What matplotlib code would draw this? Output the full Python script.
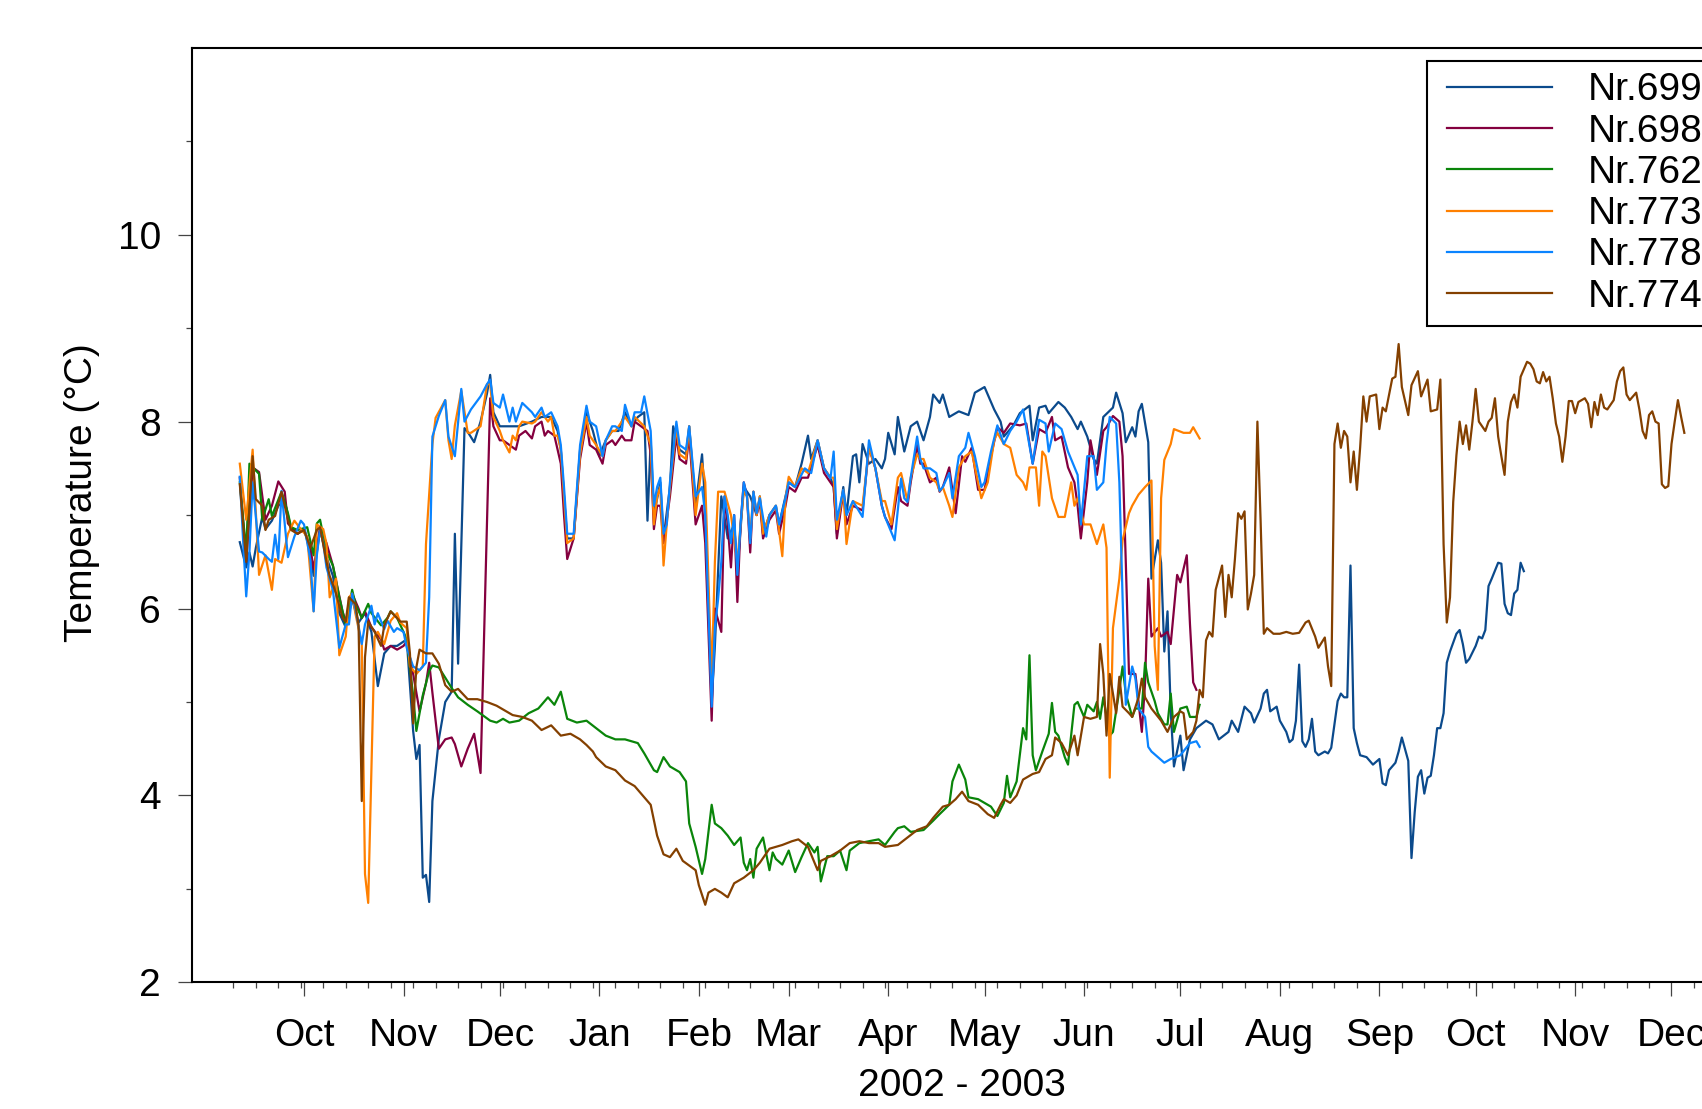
import matplotlib
matplotlib.use('Agg')
import matplotlib.pyplot as plt
import matplotlib.dates as mdates
from matplotlib.lines import Line2D
from matplotlib.legend_handler import HandlerLine2D
from matplotlib.ticker import FixedLocator
import pandas as pd

# --- Data: (days since BASE_DATE, temperature in °C) ---
BASE_DATE = '2002-10-01'

nr699 = [
    (-20, 6.71), (-18, 6.44), (-17, 6.6), (-16, 6.45), (-15, 6.65), (-13, 6.98), (-12, 6.85), (-10, 6.94),
    (-8, 7.1), (-6, 7.15), (-4, 6.85), (-2, 6.8), (0, 6.85), (2, 6.6), (3, 6.35), (5, 6.85), (7, 6.55),
    (9, 6.35), (11, 5.95), (13, 5.8), (15, 6.1), (17, 5.85), (19, 5.95), (21, 5.75), (23, 5.17), (25, 5.52),
    (27, 5.6), (29, 5.6), (32, 5.67), (34, 4.69), (35, 4.39), (36, 4.54), (37, 3.12), (38, 3.15), (39, 2.86),
    (40, 3.94), (42, 4.6), (44, 5.0), (46, 5.11), (47, 6.8), (48, 5.41), (50, 7.93), (51, 7.89), (53, 7.78),
    (55, 8.0), (57, 8.3), (58, 8.5), (59, 8.1), (61, 7.95), (64, 7.95), (67, 7.95), (71, 8.0), (74, 8.05),
    (77, 8.05), (79, 7.9), (80, 7.7), (81, 7.2), (82, 6.75), (84, 6.75), (86, 7.7), (88, 8.1), (90, 7.9),
    (92, 7.63), (94, 7.8), (96, 7.9), (98, 7.9), (100, 8.1), (102, 7.95), (104, 8.05), (106, 8.1), (107, 6.94),
    (108, 7.8), (109, 7.0), (111, 7.35), (112, 6.75), (114, 7.3), (115, 7.95), (117, 7.7), (119, 7.65),
    (120, 7.95), (122, 7.1), (124, 7.65), (125, 7.1), (127, 5.0), (128, 5.6), (129, 6.4), (130, 7.2),
    (132, 6.75), (134, 6.9), (135, 6.4), (137, 7.3), (139, 7.2), (141, 7.0), (142, 7.2), (143, 6.8),
    (145, 7.0), (147, 7.1), (148, 6.9), (150, 7.2), (151, 7.35), (153, 7.3), (155, 7.55), (157, 7.85),
    (158, 7.6), (160, 7.8), (162, 7.5), (164, 7.4), (165, 7.3), (166, 6.8), (168, 7.3), (169, 7.0),
    (171, 7.63), (172, 7.65), (173, 7.35), (174, 7.76), (176, 7.55), (178, 7.6), (180, 7.5), (181, 7.6),
    (182, 7.88), (184, 7.65), (185, 8.05), (187, 7.68), (189, 7.95), (191, 8.0), (193, 7.8), (195, 8.05),
    (196, 8.29), (198, 8.2), (199, 8.29), (201, 8.05), (204, 8.11), (207, 8.07), (209, 8.31), (212, 8.37),
    (215, 8.13), (217, 8.0), (218, 7.84), (221, 7.96), (223, 8.09), (226, 8.17), (227, 7.8), (229, 8.15),
    (231, 8.17), (232, 8.09), (235, 8.21), (237, 8.15), (239, 8.05), (241, 7.92), (242, 8.0), (244, 7.84),
    (246, 7.6), (247, 7.55), (249, 8.05), (252, 8.15), (253, 8.31), (255, 8.09), (256, 7.78), (258, 7.94),
    (259, 7.84), (260, 8.11), (261, 8.19), (263, 7.78), (264, 6.32), (266, 6.73), (267, 6.49), (268, 5.54),
    (269, 5.97), (270, 4.9), (271, 4.31), (273, 4.64), (274, 4.27), (276, 4.6), (278, 4.72), (281, 4.8),
    (283, 4.76), (285, 4.6), (288, 4.68), (289, 4.8), (291, 4.68), (293, 4.95), (295, 4.88), (296, 4.78),
    (298, 4.93), (299, 5.09), (300, 5.13), (301, 4.9), (303, 4.95), (304, 4.8), (306, 4.68), (307, 4.57),
    (308, 4.6), (309, 4.8), (310, 5.4), (311, 4.58), (312, 4.52), (313, 4.6), (314, 4.82), (315, 4.47),
    (316, 4.43), (318, 4.47), (319, 4.45), (320, 4.51), (321, 4.76), (322, 5.01), (323, 5.09), (324, 5.05),
    (325, 5.05), (326, 6.46), (327, 4.72), (328, 4.56), (329, 4.43), (331, 4.41), (333, 4.33), (335, 4.39),
    (336, 4.13), (337, 4.11), (338, 4.27), (340, 4.35), (341, 4.47), (342, 4.62), (344, 4.37), (345, 3.33),
    (346, 3.82), (347, 4.2), (348, 4.27), (349, 4.02), (350, 4.19), (351, 4.21), (352, 4.43), (353, 4.72),
    (354, 4.72), (355, 4.88), (356, 5.42), (357, 5.54), (359, 5.73), (360, 5.77), (361, 5.62), (362, 5.42),
    (363, 5.46), (365, 5.6), (366, 5.7), (367, 5.68), (368, 5.77), (369, 6.24), (370, 6.32), (372, 6.49),
    (373, 6.48), (374, 6.05), (375, 5.95), (376, 5.93), (377, 6.16), (378, 6.2), (379, 6.49), (380, 6.4),
]

nr698 = [
    (-20, 7.4), (-18, 6.5), (-16, 7.51), (-14, 7.46), (-12, 6.95), (-10, 7.1), (-8, 7.36), (-6, 7.25),
    (-5, 6.91), (-2, 6.8), (0, 6.85), (2, 6.65), (3, 6.42), (5, 6.87), (7, 6.7), (9, 6.46), (12, 5.97),
    (13, 5.86), (15, 6.16), (17, 6.0), (18, 5.9), (19, 5.97), (21, 5.8), (24, 5.67), (25, 5.56), (27, 5.6),
    (29, 5.56), (31, 5.6), (32, 5.65), (34, 5.3), (36, 4.9), (38, 5.2), (39, 5.42), (40, 5.1), (42, 4.5),
    (44, 4.6), (46, 4.62), (47, 4.55), (49, 4.31), (51, 4.5), (53, 4.66), (55, 4.24), (58, 8.25), (59, 7.95),
    (61, 7.8), (62, 7.8), (64, 7.75), (66, 7.7), (67, 7.85), (69, 7.9), (71, 7.82), (72, 7.95), (74, 8.0),
    (75, 7.85), (76, 7.9), (78, 7.85), (80, 7.55), (81, 7.0), (82, 6.53), (84, 6.75), (86, 7.6), (88, 8.0),
    (89, 7.75), (91, 7.7), (93, 7.55), (94, 7.75), (96, 7.8), (97, 7.75), (99, 7.85), (100, 7.8), (102, 7.8),
    (103, 8.0), (105, 7.95), (107, 7.9), (108, 7.65), (109, 6.85), (110, 7.1), (111, 7.1), (112, 6.7),
    (114, 7.2), (116, 7.85), (117, 7.6), (119, 7.55), (120, 7.85), (122, 6.9), (124, 7.1), (125, 6.7),
    (127, 4.8), (128, 6.0), (130, 5.75), (131, 7.2), (132, 6.9), (133, 6.44), (134, 7.0), (135, 6.07),
    (136, 6.9), (137, 7.35), (138, 7.2), (139, 6.6), (140, 7.25), (141, 7.0), (142, 7.15), (143, 6.75),
    (145, 6.95), (147, 7.05), (148, 6.8), (150, 7.1), (151, 7.3), (153, 7.25), (155, 7.4), (157, 7.4),
    (160, 7.75), (162, 7.45), (164, 7.35), (165, 7.3), (166, 6.75), (168, 7.25), (169, 6.9), (171, 7.1),
    (174, 7.05), (176, 7.72), (178, 7.5), (180, 7.1), (181, 6.98), (183, 6.85), (185, 7.3), (186, 7.15),
    (188, 7.1), (189, 7.35), (191, 7.75), (192, 7.55), (193, 7.55), (195, 7.35), (197, 7.4), (198, 7.25),
    (199, 7.3), (201, 7.51), (203, 7.02), (205, 7.63), (206, 7.57), (208, 7.72), (210, 7.27), (212, 7.27),
    (214, 7.63), (216, 7.94), (218, 7.88), (220, 7.98), (223, 7.96), (225, 7.98), (227, 7.55), (229, 7.92),
    (231, 7.88), (233, 8.05), (234, 7.8), (236, 7.84), (238, 7.51), (240, 7.35), (241, 7.1), (242, 6.75),
    (244, 7.35), (245, 7.8), (247, 7.43), (249, 7.9), (250, 7.94), (252, 8.06), (254, 8.0), (255, 7.63),
    (256, 6.5), (257, 5.3), (259, 5.3), (261, 4.68), (262, 5.2), (263, 6.32), (264, 5.7), (266, 5.79),
    (267, 5.7), (269, 5.75), (270, 5.62), (272, 6.36), (273, 6.28), (275, 6.57), (276, 5.83), (277, 5.21),
    (278, 5.13),
]

nr762 = [
    (-20, 7.35), (-18, 6.6), (-17, 7.55), (-14, 7.44), (-13, 6.95), (-11, 7.17), (-10, 6.99), (-7, 7.25),
    (-5, 7.02), (-4, 6.87), (-2, 6.84), (1, 6.87), (3, 6.57), (4, 6.91), (5, 6.95), (7, 6.61), (9, 6.46),
    (11, 6.12), (13, 5.82), (15, 6.2), (16, 6.05), (18, 5.9), (20, 6.05), (21, 5.95), (24, 5.82), (26, 5.9),
    (27, 5.97), (29, 5.9), (31, 5.75), (32, 5.67), (34, 5.07), (35, 4.69), (37, 5.07), (39, 5.33), (40, 5.39),
    (42, 5.37), (44, 5.26), (46, 5.15), (48, 5.05), (51, 4.97), (54, 4.9), (56, 4.85), (58, 4.8), (60, 4.78),
    (62, 4.82), (64, 4.78), (67, 4.8), (70, 4.88), (73, 4.93), (76, 5.05), (78, 4.97), (80, 5.11), (82, 4.82),
    (85, 4.78), (88, 4.8), (91, 4.72), (94, 4.64), (97, 4.6), (100, 4.6), (104, 4.56), (106, 4.45),
    (109, 4.27), (110, 4.25), (112, 4.41), (114, 4.31), (117, 4.25), (119, 4.15), (120, 3.7), (122, 3.45),
    (124, 3.16), (125, 3.32), (127, 3.9), (128, 3.7), (130, 3.65), (132, 3.57), (134, 3.47), (136, 3.55),
    (137, 3.28), (138, 3.2), (139, 3.32), (140, 3.12), (141, 3.43), (143, 3.55), (145, 3.2), (146, 3.39),
    (147, 3.32), (149, 3.26), (151, 3.41), (153, 3.18), (155, 3.34), (157, 3.49), (159, 3.39), (160, 3.45),
    (161, 3.08), (163, 3.35), (165, 3.35), (167, 3.41), (169, 3.2), (170, 3.41), (173, 3.49), (176, 3.51),
    (179, 3.53), (181, 3.47), (184, 3.61), (185, 3.65), (187, 3.67), (189, 3.61), (193, 3.63), (196, 3.73),
    (198, 3.8), (201, 3.9), (202, 4.15), (204, 4.33), (206, 4.17), (207, 3.98), (210, 3.96), (212, 3.92),
    (214, 3.88), (216, 3.78), (218, 3.92), (219, 4.21), (220, 3.98), (222, 4.15), (224, 4.72), (225, 4.6),
    (226, 5.5), (227, 4.43), (228, 4.27), (230, 4.47), (232, 4.66), (233, 4.99), (234, 4.68), (235, 4.64),
    (237, 4.41), (238, 4.33), (240, 4.97), (241, 5.0), (243, 4.84), (244, 4.97), (246, 4.9), (247, 5.0),
    (248, 4.82), (249, 5.05), (251, 4.64), (252, 4.68), (254, 5.13), (255, 5.38), (256, 5.09), (258, 4.84),
    (259, 4.93), (261, 4.93), (262, 5.42), (263, 5.21), (265, 5.01), (266, 4.88), (268, 4.76), (269, 4.76),
    (270, 5.09), (271, 4.68), (273, 4.93), (275, 4.95), (276, 4.84), (278, 4.84), (279, 4.97),
]

nr773 = [
    (-20, 7.55), (-18, 6.95), (-16, 7.7), (-14, 6.36), (-12, 6.57), (-10, 6.2), (-9, 6.53), (-7, 6.49),
    (-5, 6.8), (-3, 6.94), (-1, 6.85), (1, 6.77), (3, 5.97), (4, 6.9), (6, 6.85), (7, 6.69), (8, 6.12),
    (10, 6.32), (11, 5.5), (13, 5.7), (14, 6.12), (15, 6.16), (16, 5.95), (18, 5.62), (19, 3.16), (20, 2.85),
    (22, 5.7), (23, 5.75), (25, 5.62), (27, 5.87), (29, 5.95), (30, 5.85), (32, 5.79), (33, 5.38), (35, 5.3),
    (37, 5.38), (38, 6.69), (40, 7.76), (41, 8.04), (44, 8.23), (45, 7.8), (46, 7.6), (47, 7.96), (49, 8.33),
    (51, 7.88), (52, 7.88), (55, 7.95), (57, 8.4), (58, 8.4), (59, 8.05), (61, 7.9), (62, 7.8), (64, 7.67),
    (65, 7.85), (66, 7.8), (67, 7.95), (68, 8.0), (71, 7.98), (72, 8.0), (74, 8.1), (76, 8.0), (77, 8.05),
    (78, 7.85), (79, 7.85), (80, 7.7), (81, 7.2), (82, 6.7), (84, 6.75), (86, 7.65), (88, 8.05), (89, 7.85),
    (91, 7.75), (93, 7.63), (94, 7.8), (96, 7.9), (97, 7.9), (99, 8.0), (100, 8.05), (102, 7.95), (103, 8.05),
    (106, 7.95), (108, 7.75), (109, 6.9), (110, 7.2), (111, 7.3), (112, 6.46), (113, 6.9), (114, 7.3),
    (116, 7.95), (117, 7.65), (119, 7.6), (120, 7.95), (122, 7.0), (124, 7.55), (125, 7.35), (127, 5.25),
    (128, 6.5), (129, 7.25), (131, 7.25), (133, 7.0), (135, 6.5), (136, 6.9), (137, 7.25), (138, 7.2),
    (139, 6.75), (140, 7.25), (141, 7.0), (142, 7.2), (143, 6.8), (145, 7.0), (147, 7.1), (149, 6.56),
    (150, 7.18), (151, 7.41), (153, 7.3), (155, 7.5), (157, 7.45), (160, 7.8), (162, 7.5), (164, 7.4),
    (165, 7.4), (166, 6.85), (168, 7.27), (169, 6.69), (171, 7.15), (174, 7.1), (176, 7.72), (178, 7.5),
    (180, 7.15), (181, 7.15), (183, 6.9), (185, 7.4), (186, 7.45), (188, 7.15), (189, 7.4), (191, 7.65),
    (192, 7.6), (193, 7.6), (195, 7.4), (197, 7.35), (198, 7.26), (199, 7.3), (201, 7.1), (202, 6.98),
    (204, 7.51), (206, 7.63), (208, 7.68), (211, 7.18), (213, 7.35), (215, 7.8), (216, 7.88), (218, 7.76),
    (220, 7.72), (222, 7.43), (224, 7.35), (225, 7.27), (226, 7.51), (228, 7.51), (229, 7.1), (230, 7.68),
    (231, 7.63), (233, 7.18), (235, 6.98), (237, 6.98), (239, 7.35), (240, 7.1), (241, 7.18), (243, 6.9),
    (245, 6.9), (247, 6.69), (249, 6.9), (250, 6.65), (251, 4.19), (252, 5.79), (254, 6.32), (255, 6.73),
    (257, 7.02), (258, 7.1), (260, 7.22), (262, 7.3), (264, 7.37), (265, 5.6), (266, 5.13), (267, 7.18),
    (268, 7.59), (270, 7.76), (271, 7.92), (274, 7.88), (276, 7.88), (277, 7.94), (279, 7.82),
]

nr778 = [
    (-20, 7.41), (-19, 6.75), (-18, 6.13), (-17, 6.6), (-16, 7.35), (-14, 6.61), (-13, 6.6), (-11, 6.53),
    (-10, 6.5), (-9, 6.79), (-8, 6.53), (-7, 7.26), (-6, 6.9), (-5, 6.55), (-3, 6.77), (-1, 6.94), (0, 6.9),
    (2, 6.52), (3, 5.97), (4, 6.57), (5, 6.85), (6, 6.7), (7, 6.44), (9, 6.2), (11, 5.58), (13, 5.83),
    (14, 5.83), (15, 6.16), (16, 6.0), (18, 5.62), (19, 5.83), (21, 6.03), (22, 5.83), (23, 5.95), (25, 5.78),
    (26, 5.87), (28, 5.75), (29, 5.79), (31, 5.75), (32, 5.58), (34, 5.38), (36, 5.34), (38, 5.42), (39, 6.12),
    (40, 7.84), (42, 8.06), (44, 8.23), (45, 7.84), (47, 7.63), (49, 8.35), (50, 8.0), (52, 8.13), (55, 8.27),
    (57, 8.4), (58, 8.45), (59, 8.2), (61, 8.15), (62, 8.29), (64, 8.0), (65, 8.15), (66, 8.0), (67, 8.1),
    (68, 8.2), (71, 8.1), (72, 8.05), (74, 8.15), (75, 8.05), (77, 8.1), (79, 7.95), (80, 7.75), (81, 7.3),
    (82, 6.8), (84, 6.8), (86, 7.75), (88, 8.17), (89, 8.0), (91, 7.95), (93, 7.63), (94, 7.8), (96, 7.95),
    (97, 7.95), (99, 7.9), (100, 8.18), (102, 7.95), (103, 8.1), (105, 8.1), (106, 8.27), (108, 7.9),
    (109, 7.1), (110, 7.3), (111, 7.4), (112, 6.8), (113, 6.9), (114, 7.35), (116, 8.0), (117, 7.75),
    (119, 7.7), (120, 7.95), (122, 7.2), (124, 7.3), (125, 7.0), (127, 4.95), (128, 5.8), (129, 6.1),
    (130, 6.5), (131, 7.2), (132, 7.0), (133, 6.7), (134, 7.0), (135, 6.36), (136, 6.9), (137, 7.35),
    (138, 7.2), (139, 6.7), (140, 7.25), (141, 7.02), (142, 7.18), (144, 6.77), (145, 7.0), (147, 7.1),
    (148, 6.9), (150, 7.18), (151, 7.35), (153, 7.3), (156, 7.5), (158, 7.45), (160, 7.8), (162, 7.5),
    (164, 7.39), (165, 7.68), (166, 6.95), (168, 7.27), (169, 7.0), (171, 7.15), (174, 6.98), (176, 7.8),
    (178, 7.5), (180, 7.1), (181, 6.98), (184, 6.73), (186, 7.39), (187, 7.18), (188, 7.14), (189, 7.4),
    (191, 7.84), (192, 7.6), (193, 7.5), (195, 7.5), (197, 7.45), (198, 7.26), (199, 7.3), (201, 7.45),
    (202, 7.18), (204, 7.63), (206, 7.72), (207, 7.88), (209, 7.63), (211, 7.3), (212, 7.35), (214, 7.68),
    (216, 7.96), (218, 7.76), (220, 7.9), (222, 8.0), (224, 8.13), (227, 7.55), (229, 8.02), (231, 7.98),
    (232, 7.68), (234, 7.98), (236, 7.92), (238, 7.68), (241, 7.43), (242, 6.9), (244, 7.63), (246, 7.63),
    (247, 7.27), (249, 7.35), (250, 7.76), (251, 8.05), (253, 7.98), (254, 7.35), (255, 6.12), (256, 4.97),
    (258, 5.38), (259, 5.25), (260, 4.93), (262, 4.84), (263, 4.52), (264, 4.47), (268, 4.35), (270, 4.39),
    (273, 4.43), (276, 4.56), (278, 4.58), (279, 4.52),
]

nr774 = [
    (-20, 7.33), (-18, 6.5), (-16, 7.63), (-15, 7.17), (-13, 7.1), (-12, 6.84), (-11, 6.95), (-9, 6.99),
    (-7, 7.25), (-5, 6.95), (-4, 6.84), (-2, 6.8), (0, 6.84), (2, 6.65), (4, 6.84), (5, 6.87), (7, 6.5),
    (8, 6.35), (10, 6.16), (12, 5.9), (13, 5.86), (14, 6.12), (16, 6.05), (17, 5.82), (18, 3.94), (19, 5.48),
    (20, 5.86), (22, 5.75), (24, 5.6), (25, 5.82), (27, 5.97), (30, 5.86), (32, 5.86), (33, 5.52), (34, 4.77),
    (35, 5.37), (36, 5.56), (38, 5.52), (40, 5.52), (42, 5.41), (44, 5.18), (46, 5.11), (48, 5.14), (51, 5.03),
    (54, 5.03), (57, 5.0), (60, 4.96), (62, 4.92), (65, 4.86), (68, 4.84), (71, 4.8), (74, 4.7), (77, 4.75),
    (80, 4.64), (83, 4.66), (86, 4.6), (88, 4.54), (90, 4.47), (91, 4.41), (94, 4.31), (97, 4.27), (100, 4.16),
    (103, 4.1), (106, 3.98), (108, 3.9), (110, 3.57), (112, 3.37), (114, 3.34), (116, 3.43), (118, 3.3),
    (120, 3.25), (122, 3.2), (123, 3.04), (125, 2.83), (126, 2.96), (128, 3.0), (130, 2.96), (132, 2.91),
    (134, 3.06), (137, 3.12), (140, 3.2), (142, 3.28), (145, 3.43), (147, 3.45), (149, 3.47), (152, 3.51),
    (154, 3.53), (157, 3.45), (160, 3.2), (161, 3.3), (164, 3.35), (167, 3.41), (170, 3.49), (173, 3.51),
    (176, 3.49), (179, 3.49), (181, 3.45), (185, 3.47), (188, 3.55), (191, 3.63), (194, 3.67), (196, 3.76),
    (199, 3.88), (201, 3.9), (203, 3.96), (205, 4.04), (207, 3.94), (210, 3.9), (213, 3.8), (215, 3.76),
    (217, 3.9), (218, 3.96), (220, 3.92), (222, 4.0), (224, 4.17), (227, 4.23), (229, 4.25), (231, 4.39),
    (233, 4.43), (234, 4.62), (236, 4.56), (238, 4.43), (240, 4.64), (241, 4.43), (243, 4.84), (245, 4.82),
    (247, 4.84), (248, 5.62), (249, 5.3), (250, 4.64), (251, 5.3), (253, 4.88), (254, 5.27), (255, 4.95),
    (257, 4.88), (258, 4.84), (260, 5.05), (261, 5.25), (262, 5.05), (264, 4.93), (267, 4.8), (269, 4.68),
    (271, 4.84), (273, 4.9), (274, 4.88), (275, 4.6), (277, 4.68), (278, 4.8), (279, 5.13), (280, 5.05),
    (281, 5.66), (282, 5.75), (283, 5.7), (284, 6.2), (286, 6.46), (287, 5.91), (288, 6.36), (289, 6.12),
    (290, 6.53), (291, 7.02), (292, 6.96), (293, 7.04), (294, 5.99), (295, 6.16), (296, 6.36), (297, 8.0),
    (298, 6.94), (299, 5.73), (300, 5.79), (302, 5.73), (304, 5.73), (306, 5.75), (308, 5.73), (310, 5.74),
    (312, 5.85), (313, 5.87), (315, 5.7), (316, 5.58), (318, 5.69), (319, 5.38), (320, 5.17), (321, 7.76),
    (322, 7.98), (323, 7.72), (324, 7.9), (325, 7.84), (326, 7.35), (327, 7.68), (328, 7.27), (329, 7.72),
    (330, 8.27), (331, 8.0), (332, 8.27), (334, 8.29), (335, 7.92), (336, 8.15), (337, 8.11), (339, 8.46),
    (340, 8.48), (341, 8.83), (342, 8.37), (344, 8.07), (345, 8.39), (347, 8.54), (348, 8.27), (350, 8.45),
    (351, 8.11), (353, 8.13), (354, 8.45), (355, 6.69), (356, 5.85), (357, 6.12), (358, 7.14), (359, 7.64),
    (360, 8.0), (361, 7.76), (362, 7.96), (363, 7.7), (364, 8.0), (365, 8.35), (366, 8.0), (368, 7.9),
    (369, 8.0), (370, 8.04), (371, 8.25), (372, 7.84), (373, 7.63), (374, 7.43), (375, 8.0), (376, 8.21),
    (377, 8.29), (378, 8.15), (379, 8.48), (380, 8.56), (381, 8.64), (382, 8.62), (383, 8.56), (384, 8.43),
    (385, 8.41), (386, 8.53), (387, 8.43), (388, 8.48), (389, 8.25), (390, 7.98), (391, 7.84), (392, 7.57),
    (393, 7.84), (394, 8.22), (395, 8.22), (396, 8.09), (397, 8.21), (399, 8.25), (400, 8.19), (401, 7.94),
    (402, 8.21), (403, 8.07), (404, 8.29), (405, 8.15), (406, 8.13), (408, 8.23), (409, 8.43), (410, 8.54),
    (411, 8.58), (412, 8.29), (413, 8.23), (415, 8.31), (416, 8.13), (417, 7.9), (418, 7.82), (419, 8.07),
    (420, 8.11), (421, 8.0), (422, 7.98), (423, 7.33), (424, 7.29), (425, 7.31), (426, 7.76), (427, 8.0),
    (428, 8.23), (429, 8.05), (430, 7.88),
]

labels = ['Nr.699', 'Nr.698', 'Nr.762', 'Nr.773', 'Nr.778', 'Nr.774']
colors = ['#0b4a8c', '#84003f', '#0a850a', '#ff8000', '#0a84ff', '#844000']
y_ticks = [2, 4, 6, 8, 10]
y_minor = [3, 5, 7, 9, 11]

FS = 28


def to_dates(points):
    days = [p[0] for p in points]
    temps = [p[1] for p in points]
    dates = pd.Timestamp(BASE_DATE) + pd.to_timedelta(days, unit='D')
    return dates, temps


plt.rcParams['font.family'] = ['Liberation Sans', 'DejaVu Sans']
plt.rcParams['font.size'] = FS

fig = plt.figure(figsize=(17.02, 11.09), dpi=100)
# the original axes run past the right edge of the picture
ax = fig.add_axes([0.1126, 0.1142, 0.9072, 0.8427])

for name, pts, col in zip(labels, [nr699, nr698, nr762, nr773, nr778, nr774], colors):
    dates, temps = to_dates(pts)
    ax.plot(dates, temps, color=col, lw=1.6, label=name)

ax.set_xlim(pd.Timestamp('2002-08-27'), pd.Timestamp('2003-12-21'))
ax.set_ylim(2, 12)

# month ticks start at Oct 2002, weekly (Monday) minor ticks start where the data start
month_ticks = pd.date_range('2002-10-01', '2004-01-01', freq='MS')
week_ticks = pd.date_range('2002-09-09', '2004-01-01', freq='W-MON')
ax.xaxis.set_major_locator(FixedLocator(mdates.date2num(month_ticks)))
ax.xaxis.set_major_formatter(mdates.DateFormatter('%b'))
ax.xaxis.set_minor_locator(FixedLocator(mdates.date2num(week_ticks)))
ax.yaxis.set_major_locator(FixedLocator(y_ticks))
ax.yaxis.set_minor_locator(FixedLocator(y_minor))

ax.tick_params(which='major', length=10, width=0.9, color='#444444', pad=12, labelsize=FS)
ax.tick_params(axis='x', which='major', pad=16)
ax.tick_params(which='minor', length=4.5, width=0.9, color='#444444')

for sp in ax.spines.values():
    sp.set_linewidth(1.5)
    sp.set_color('black')

ax.set_xlabel('2002 - 2003', fontsize=FS)
ax.set_ylabel('Temperature (°C)', fontsize=FS)
ax.xaxis.label.set_va('center')
ax.yaxis.label.set_va('center')
ax.xaxis.set_label_coords(0.4987, -0.111)
ax.yaxis.set_label_coords(-0.0707, 0.524)

# legend: handle lines start a little in from the frame, like the original
leg = ax.legend(loc='upper left', bbox_to_anchor=(0.8387, 0.9452), bbox_transform=fig.transFigure,
                borderaxespad=0, fontsize=FS, handlelength=2.89, handletextpad=0.92,
                labelspacing=0.135, borderpad=0.3, fancybox=False, framealpha=1,
                handler_map={Line2D: HandlerLine2D(xpad=0.19)})
leg.get_frame().set_edgecolor('black')
leg.get_frame().set_linewidth(1.5)

fig.savefig('out.png', dpi=100)
